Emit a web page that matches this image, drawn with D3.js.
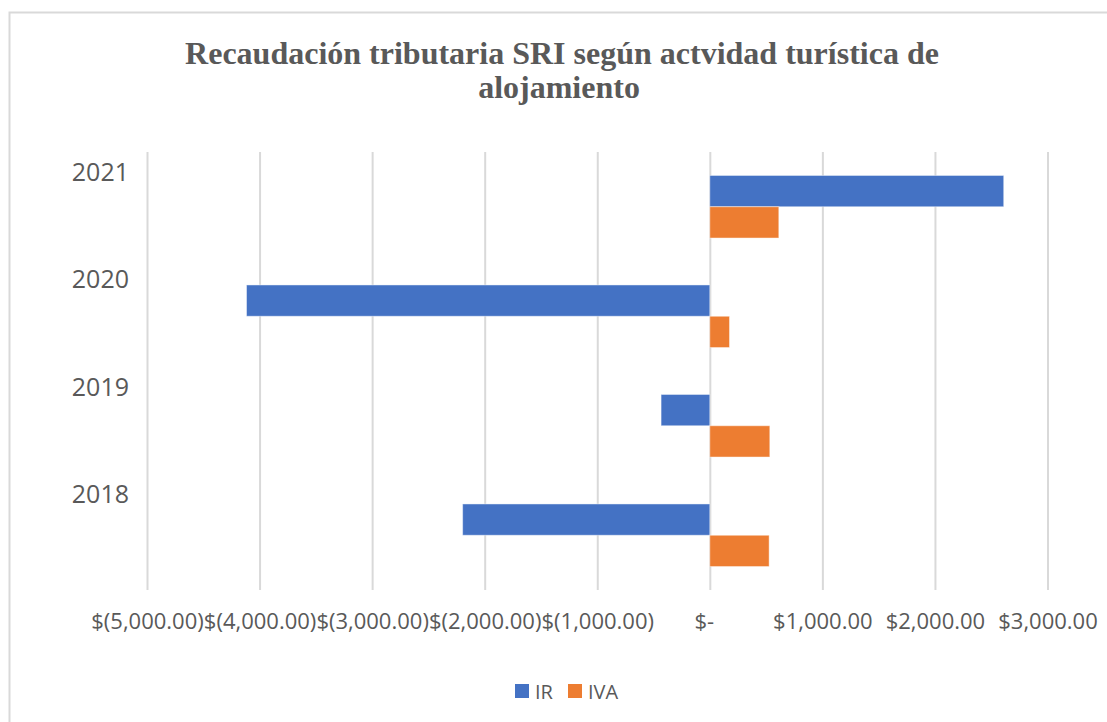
<!DOCTYPE html>
<html>
<head>
<meta charset="utf-8">
<script src="https://cdn.jsdelivr.net/npm/d3@7"></script>
<style>
	body { margin: 0; background: #fff; }
	svg { display: block; }
</style>
</head>
<body>
<div id="chart"></div>
<script>
// data
var years = ["2021", "2020", "2019", "2018"];
var seriesNames = ["IR", "IVA"];
var irValues = [2611, -4116, -433, -2196];
var ivaValues = [613, 175, 533, 527];
var xTicks = [-5000, -4000, -3000, -2000, -1000, 0, 1000, 2000, 3000];

var width = 1107, height = 722;
var colors = { IR: "#4472C4", IVA: "#ED7D31" };
var textColor = "#595959";
var font = "'Open Sans', sans-serif";

var rows = years.map(function (y, i) {
	return { year: y, IR: irValues[i], IVA: ivaValues[i] };
});

var svg = d3.select("#chart")
	.append("svg")
	.attr("width", width)
	.attr("height", height);

// chart frame (runs past the right / bottom edge like the cropped screenshot)
svg.append("rect")
	.attr("x", 9.5)
	.attr("y", 12.5)
	.attr("width", width + 20)
	.attr("height", height + 20)
	.attr("fill", "#fff")
	.attr("stroke", "#d9d9d9")
	.attr("stroke-width", 2);

// title
var title = svg.append("text")
	.attr("text-anchor", "middle")
	.attr("fill", textColor)
	.style("font-family", "'Liberation Serif', 'Times New Roman', serif")
	.style("font-weight", "bold")
	.style("font-size", "32px");
title.append("tspan").attr("x", 562).attr("y", 64)
	.text("Recaudación tributaria SRI según actvidad turística de");
title.append("tspan").attr("x", 559).attr("y", 98)
	.text("alojamiento");

var plotTop = 152, plotBottom = 590;

var x = d3.scaleLinear()
	.domain([-5000, 3000])
	.range([147, 1047.5]);

var y = d3.scaleBand()
	.domain(years)
	.range([plotTop, plotBottom])
	.padding(0);

var ySub = d3.scaleBand()
	.domain(seriesNames)
	.range([0, y.bandwidth()])
	.paddingInner(0)
	.paddingOuter(0.75);

// label positions of the category axis
var yLabel = d3.scalePoint()
	.domain(years)
	.range([181, 503]);

function money(d) {
	if (d === 0) return "$-";
	var s = d3.format(",.2f")(Math.abs(d));
	return d < 0 ? "$(" + s + ")" : "$" + s;
}

// gridlines
var grid = svg.append("g")
	.attr("transform", "translate(0," + plotBottom + ")")
	.call(d3.axisBottom(x).tickValues(xTicks).tickSize(-(plotBottom - plotTop)).tickFormat(""));
grid.select(".domain").remove();
grid.selectAll(".tick line")
	.attr("stroke", "#d9d9d9")
	.attr("stroke-width", 2);

// tick labels
var xAxis = svg.append("g")
	.attr("transform", "translate(0,629)")
	.call(d3.axisBottom(x).tickValues(xTicks).tickSize(0).tickPadding(0).tickFormat(money));
xAxis.select(".domain").remove();
xAxis.selectAll(".tick text")
	.attr("y", 0)
	.attr("dy", 0)
	.attr("dx", function (d) { return d === 0 ? -6 : 0; })
	.attr("fill", textColor)
	.style("font-family", font)
	.style("font-size", "22px");

// bars
var groups = svg.append("g")
	.selectAll("g")
	.data(rows)
	.enter()
	.append("g")
	.attr("transform", function (d) { return "translate(0," + y(d.year) + ")"; });

groups.selectAll("rect")
	.data(function (d) { return seriesNames.map(function (k) { return { key: k, value: d[k] }; }); })
	.enter()
	.append("rect")
	.attr("x", function (d) { return x(Math.min(0, d.value)); })
	.attr("y", function (d) { return ySub(d.key); })
	.attr("width", function (d) { return Math.abs(x(d.value) - x(0)); })
	.attr("height", ySub.bandwidth())
	.attr("fill", function (d) { return colors[d.key]; })
	.attr("stroke", "#fff")
	.attr("stroke-opacity", 0.45)
	.attr("stroke-width", 1);

// category labels
svg.append("g")
	.selectAll("text")
	.data(years)
	.enter()
	.append("text")
	.attr("x", 129)
	.attr("y", function (d) { return yLabel(d); })
	.attr("text-anchor", "end")
	.attr("fill", textColor)
	.style("font-family", font)
	.style("font-size", "25px")
	.text(function (d) { return d; });

// legend
var legendX = [515, 568];
var legend = svg.append("g")
	.selectAll("g")
	.data(seriesNames)
	.enter()
	.append("g")
	.attr("transform", function (d, i) { return "translate(" + legendX[i] + ",684)"; });
legend.append("rect")
	.attr("width", 14)
	.attr("height", 14)
	.attr("fill", function (d) { return colors[d]; });
legend.append("text")
	.attr("x", 20)
	.attr("y", 15)
	.attr("fill", textColor)
	.style("font-family", font)
	.style("font-size", "20px")
	.text(function (d) { return d; });
</script>
</body>
</html>
